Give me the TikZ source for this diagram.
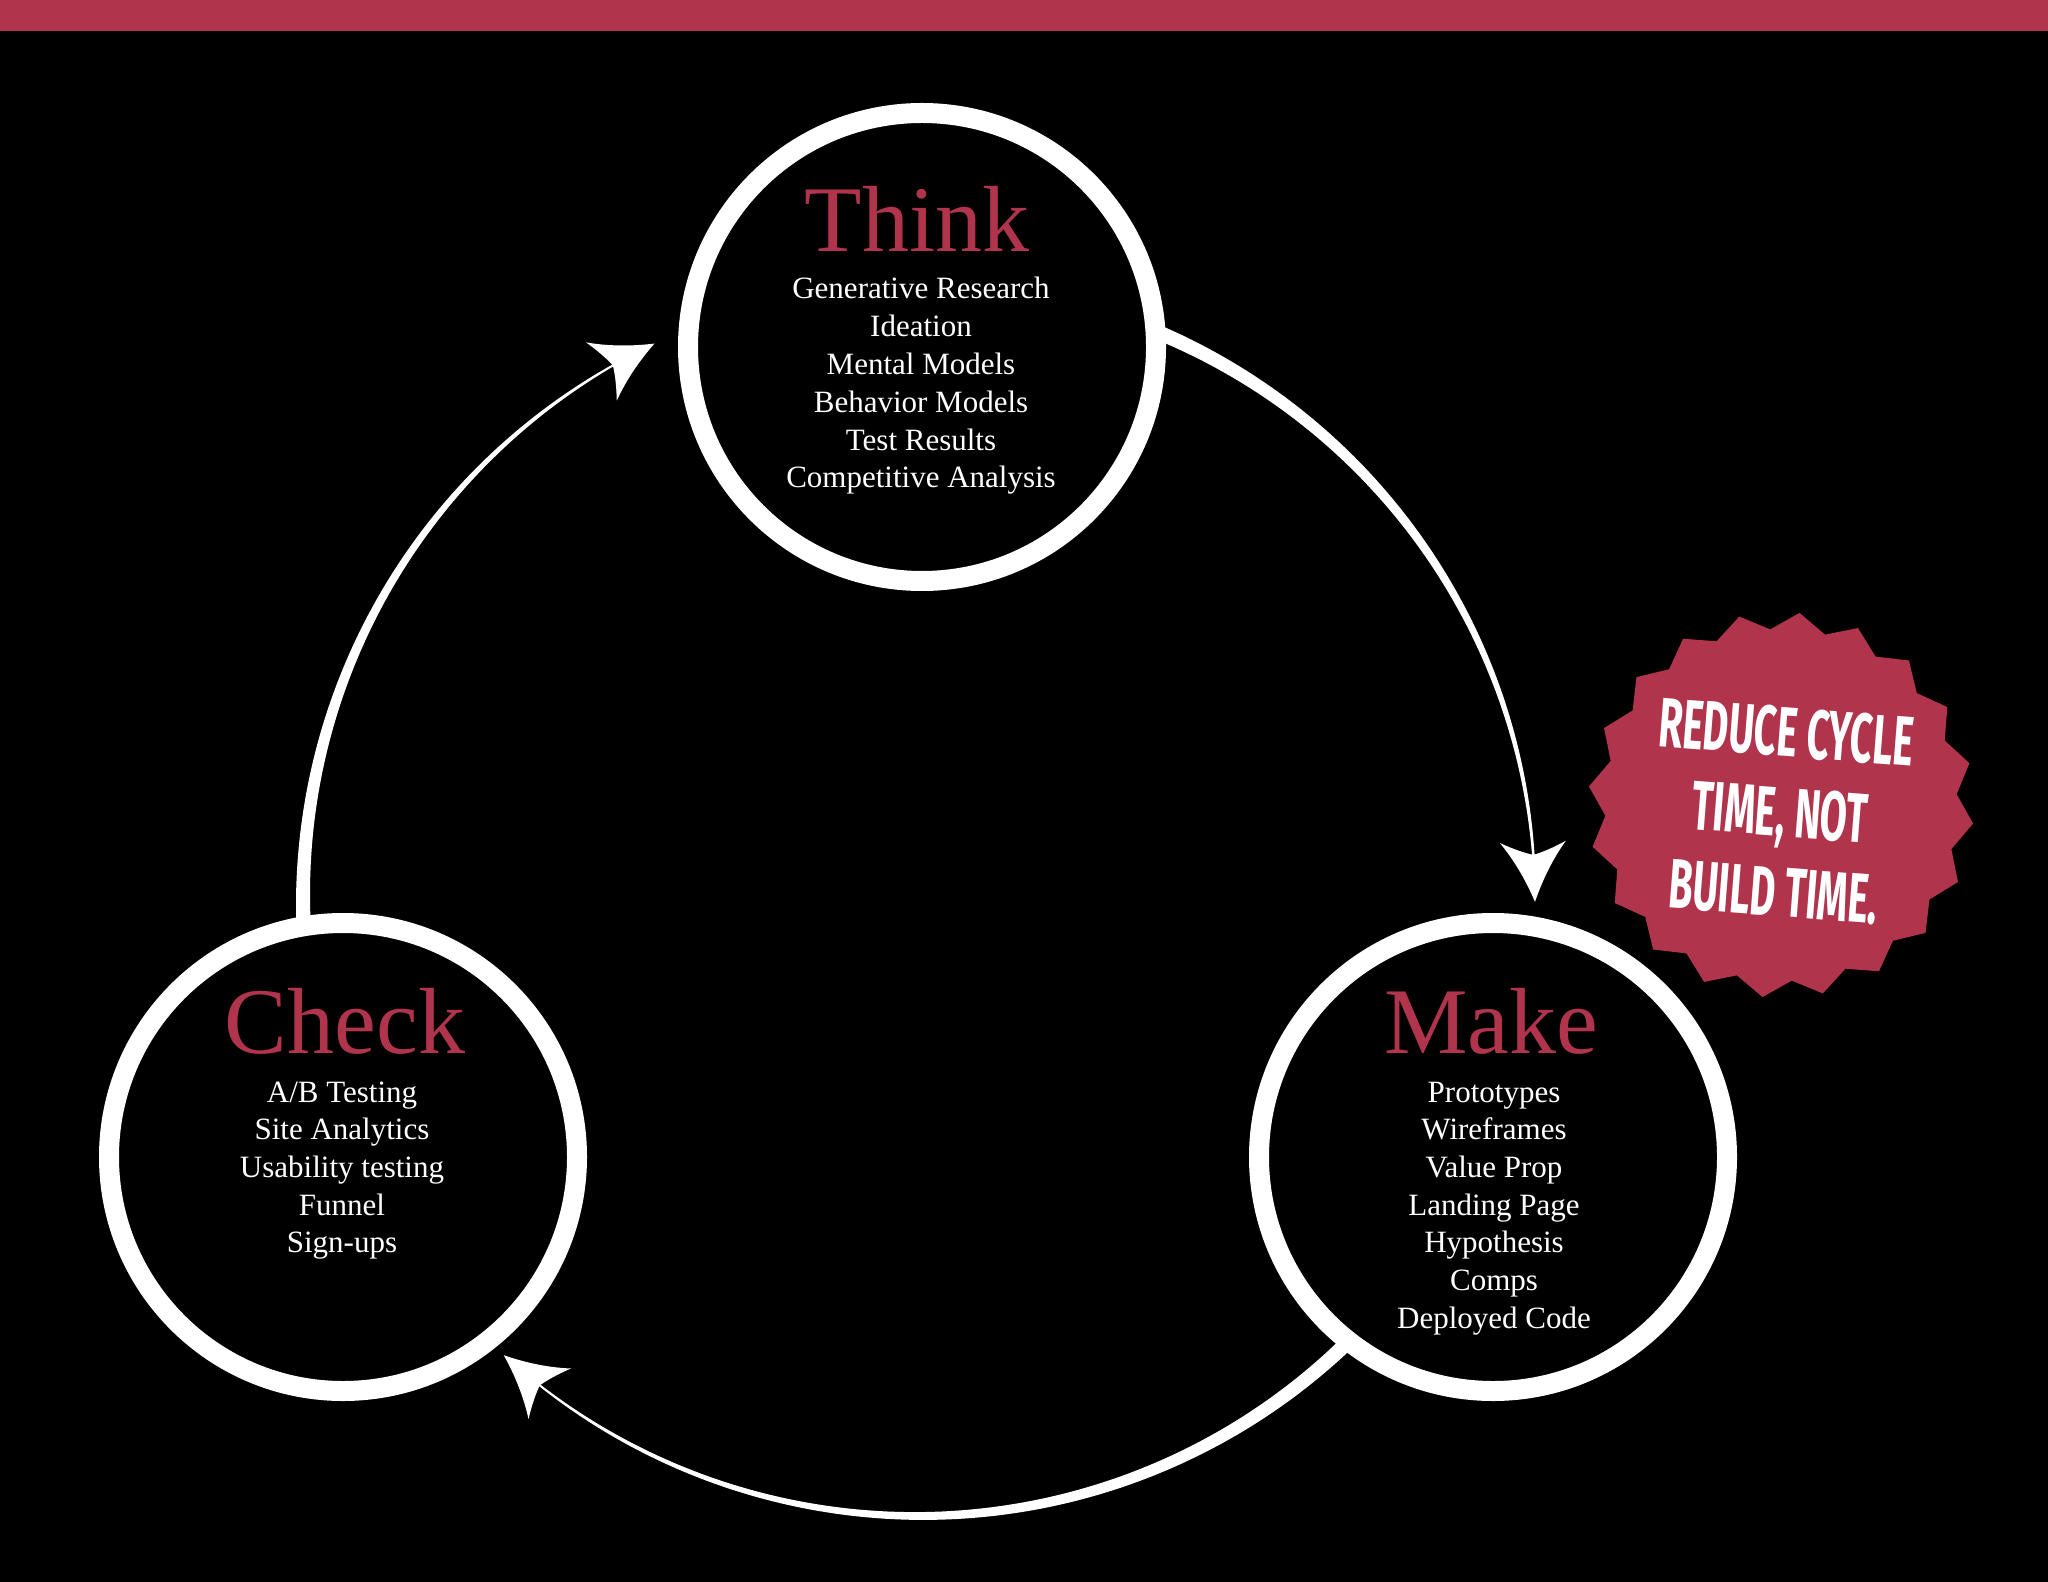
\documentclass[tikz,border=0pt]{standalone}
\usepackage{fontspec}
\setmainfont{Liberation Serif}
\newfontfamily\badgefont[FakeStretch=0.56]{Fira Sans}
\usetikzlibrary{shapes.geometric}
\definecolor{brandred}{HTML}{AF344C}
\tikzset{
  stage/.style={circle, draw=white, fill=black, line width=10pt, minimum size=234pt, inner sep=0pt},
  stagetitle/.style={anchor=base, inner sep=0pt, text=brandred, font=\fontsize{47}{50}\selectfont},
  stageitem/.style={anchor=base, inner sep=0pt, text=white, font=\fontsize{15.5}{19}\selectfont},
  badge/.style={star, star points=20, star point ratio=1.097, minimum size=193pt, inner sep=0pt, fill=brandred, shape border rotate=-5.5},
  badgetext/.style={text=white, align=center, rotate=-4.5, inner sep=0pt, font=\badgefont\bfseries\fontsize{35}{40}\selectfont},
  headfill/.style={fill=white},
}
% tapered arc shaft on the big cycle circle: start angle, end angle, start width, end width
\newcommand{\taperarc}[4]{%
  \fill[white] plot[domain=#1:#2, samples=120]
    ({919+(616+0.5*((#3)+((#4)-(#3))*(\x-(#1))/((#2)-(#1))))*cos(\x)},
     {900-(616+0.5*((#3)+((#4)-(#3))*(\x-(#1))/((#2)-(#1))))*sin(\x)})
    -- plot[domain=#2:#1, samples=120]
    ({919+(616-0.5*((#3)+((#4)-(#3))*(\x-(#1))/((#2)-(#1))))*cos(\x)},
     {900-(616-0.5*((#3)+((#4)-(#3))*(\x-(#1))/((#2)-(#1))))*sin(\x)})
    -- cycle;}
% arrow head with its notch at a named coordinate
\newcommand{\arrowtip}[2]{%
  \fill[headfill, shift={(#1)}, rotate=#2]
    (47,0) .. controls (26,8) and (5,19) .. (-13,33)
    .. controls (-6,19) and (-2,8) .. (0,0)
    .. controls (-2,-8) and (-6,-19) .. (-13,-33)
    .. controls (5,-19) and (26,-8) .. (47,0) -- cycle;}
\begin{document}
\begin{tikzpicture}[x=0.5pt, y=-0.5pt]
  \useasboundingbox (0,0) rectangle (2048,1582);
  \fill[black] (0,0) rectangle (2048,1582);
  \fill[brandred] (0,0) rectangle (2048,31);

  % named arrow-head positions
  \coordinate (h1) at ({919+616*cos(4.2)}, {900-616*sin(4.2)});
  \coordinate (h2) at ({919+616*cos(-128)}, {900-616*sin(-128)});
  \coordinate (h3) at ({919+616*cos(119.8)}, {900-616*sin(119.8)});

  % Think -> Make
  \taperarc{69}{4.2}{15}{2.5}
  \arrowtip{h1}{-88}
  % Make -> Check
  \taperarc{-43}{-128}{15}{2}
  \arrowtip{h2}{140}
  % Check -> Think
  \taperarc{185}{119.8}{15}{2}
  \arrowtip{h3}{27.8}

  % stages
  \node[stage] (think) at (922,347) {};
  \node[stage] (check) at (343,1157) {};
  \node[stage] (make) at (1493,1157) {};

  \node[stagetitle] (thinktitle) at (917,252) {Think};
  \foreach \t [count=\i] in {Generative Research, Ideation, Mental Models, Behavior Models, Test Results, Competitive Analysis}
    \node[stageitem] (think-\i) at (921, {299+37.8*(\i-1)}) {\t};

  \node[stagetitle] (checktitle) at (345,1053) {Check};
  \foreach \t [count=\i] in {A/B Testing, Site Analytics, Usability testing, Funnel, Sign-ups}
    \node[stageitem] (check-\i) at (342, {1102+37.7*(\i-1)}) {\t};

  \node[stagetitle] (maketitle) at (1491,1053) {Make};
  \foreach \t [count=\i] in {Prototypes, Wireframes, Value Prop, Landing Page, Hypothesis, Comps, Deployed Code}
    \node[stageitem] (make-\i) at (1494, {1102+37.7*(\i-1)}) {\t};

  % badge
  \node[badge] (badge) at (1781,805) {};
  \node[badgetext] (badgelabel) at (1780,812) {REDUCE CYCLE\\TIME, NOT\\BUILD TIME.};
\end{tikzpicture}
\end{document}
